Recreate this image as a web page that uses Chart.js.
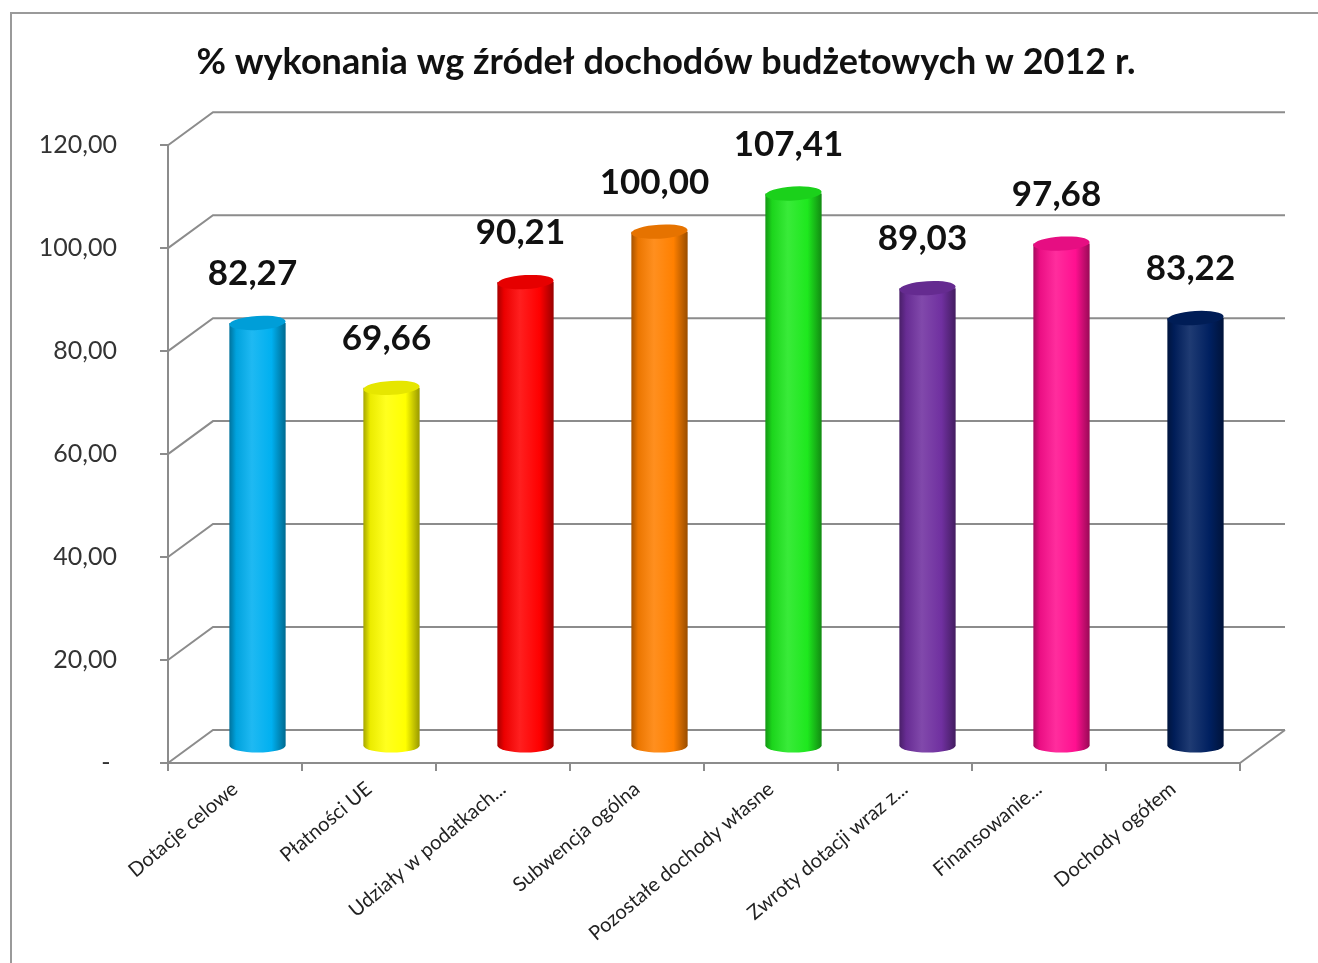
<!DOCTYPE html>
<html>
<head>
<meta charset="utf-8">
<script src="https://cdn.jsdelivr.net/npm/chart.js@4.4.1/dist/chart.umd.min.js"></script>
<style>
  body { margin: 0; background: #fff; }
  #wrap { width: 1318px; height: 963px; }
</style>
</head>
<body>
<div id="wrap"><canvas id="myChart"></canvas></div>
<script>
const categories = [
  'Dotacje celowe',
  'Płatności UE',
  'Udziały w podatkach...',
  'Subwencja ogólna',
  'Pozostałe dochody własne',
  'Zwroty dotacji wraz z...',
  'Finansowanie...',
  'Dochody ogółem'
];

const percentDone = [82.27, 69.66, 90.21, 100.00, 107.41, 89.03, 97.68, 83.22];

const barColors = ['#00b0f0', '#ffff00', '#ff0000', '#ff8000', '#1ee81e', '#7030a0', '#ff1090', '#002060'];

const yTicks = [0, 20, 40, 60, 80, 100, 120];

const title = '% wykonania wg źródeł dochodów budżetowych w 2012 r.';

// depth of the fake 3D box
const DX = 45, DY = -33;
const FONT = 'Lato, "Open Sans", sans-serif';

const plFormat = (v) => v === 0 ? '- ' : v.toFixed(2).replace('.', ',');

const shade = (hex, amt) => {
  // amt < 0 darker, amt > 0 lighter
  let r = parseInt(hex.substr(1, 2), 16);
  let g = parseInt(hex.substr(3, 2), 16);
  let b = parseInt(hex.substr(5, 2), 16);
  const t = amt < 0 ? 0 : 255;
  const p = Math.abs(amt);
  r = Math.round(r + (t - r) * p);
  g = Math.round(g + (t - g) * p);
  b = Math.round(b + (t - b) * p);
  return `rgb(${r},${g},${b})`;
};

const frame3d = {
  id: 'frame3d',
  beforeDraw(chart) {
    const ctx = chart.ctx;
    ctx.save();
    ctx.strokeStyle = '#9a9a9a';
    ctx.lineWidth = 2;
    ctx.beginPath();
    ctx.moveTo(11, chart.height);
    ctx.lineTo(11, 13);
    ctx.lineTo(chart.width, 13);
    ctx.stroke();
    ctx.restore();
  },
  beforeDatasetsDraw(chart) {
    const { ctx, chartArea } = chart;
    const y = chart.scales.y;
    ctx.save();
    ctx.strokeStyle = '#8c8c8c';
    ctx.lineWidth = 2;
    yTicks.forEach((v) => {
      const py = y.getPixelForValue(v);
      ctx.beginPath();
      ctx.moveTo(chartArea.left, py);
      ctx.lineTo(chartArea.left + DX, py + DY);
      ctx.lineTo(chartArea.right + DX, py + DY);
      ctx.stroke();
    });
    // right edge of the floor
    ctx.beginPath();
    ctx.moveTo(chartArea.right, chartArea.bottom);
    ctx.lineTo(chartArea.right + DX, chartArea.bottom + DY);
    ctx.stroke();
    ctx.restore();
  },
  afterDatasetsDraw(chart) {
    const ctx = chart.ctx;
    const meta = chart.getDatasetMeta(0);
    meta.data.forEach((bar, i) => {
      const col = barColors[i];
      const cx = bar.x + DX / 2;
      const top = bar.y + DY / 2;
      const base = bar.base + DY / 2;
      const rx = bar.width / 2;
      const ry = 7;
      ctx.save();
      const grad = ctx.createLinearGradient(cx - rx, 0, cx + rx, 0);
      grad.addColorStop(0, shade(col, -0.35));
      grad.addColorStop(0.12, shade(col, -0.08));
      grad.addColorStop(0.4, shade(col, 0.12));
      grad.addColorStop(0.75, col);
      grad.addColorStop(1, shade(col, -0.4));
      ctx.fillStyle = grad;
      ctx.beginPath();
      ctx.moveTo(cx - rx, top);
      ctx.lineTo(cx - rx, base);
      ctx.ellipse(cx, base, rx, ry, 0, Math.PI, 0, true);
      ctx.lineTo(cx + rx, top);
      ctx.closePath();
      ctx.fill();
      // lid
      ctx.fillStyle = shade(col, -0.1);
      ctx.beginPath();
      ctx.ellipse(cx, top, rx, ry, -0.06, 0, Math.PI * 2);
      ctx.fill();
      // value label
      ctx.fillStyle = '#111';
      ctx.font = 'bold 35px ' + FONT;
      ctx.textAlign = 'center';
      ctx.textBaseline = 'middle';
      ctx.fillText(percentDone[i].toFixed(2).replace('.', ','), cx - 5, top - 49);
      ctx.restore();
    });
  }
};

const config = {
  type: 'bar',
  data: {
    labels: categories,
    datasets: [{
      label: '% wykonania',
      data: percentDone,
      backgroundColor: 'rgba(0,0,0,0)',
      borderWidth: 0,
      barPercentage: 0.42,
      categoryPercentage: 1
    }]
  },
  options: {
    responsive: true,
    maintainAspectRatio: false,
    animation: false,
    layout: { padding: { left: 14, right: 0, top: 0, bottom: 0 } },
    plugins: {
      legend: { display: false },
      tooltip: { enabled: false },
      title: {
        display: true,
        text: title,
        color: '#111',
        font: { family: FONT, size: 36, weight: 'bold' },
        padding: { top: 41, bottom: 61 }
      }
    },
    scales: {
      x: {
        grid: { offset: true, drawOnChartArea: false, color: '#8c8c8c', lineWidth: 2, tickLength: 8 },
        border: { color: '#8c8c8c', width: 2 },
        ticks: {
          color: '#222',
          font: { family: FONT, size: 20 },
          minRotation: 40,
          maxRotation: 40,
          autoSkip: false,
          padding: 6
        },
        afterFit(scale) { scale.height = 200; }
      },
      y: {
        min: 0,
        max: 120,
        afterBuildTicks(scale) { scale.ticks = yTicks.map((v) => ({ value: v })); },
        grid: { drawOnChartArea: false, color: '#8c8c8c', lineWidth: 2, tickLength: 8 },
        border: { color: '#8c8c8c', width: 2 },
        ticks: {
          color: '#333',
          font: { family: FONT, size: 25 },
          padding: 43,
          callback: (v) => plFormat(v)
        },
        afterFit(scale) { scale.width = 154; }
      },
      // empty right-hand axis: only reserves room for the box depth
      yRight: {
        type: 'linear',
        position: 'right',
        min: 0,
        max: 120,
        grid: { display: false },
        border: { display: false },
        ticks: { display: false },
        afterFit(scale) { scale.width = 78; }
      }
    }
  },
  plugins: [frame3d]
};

new Chart(document.getElementById('myChart'), config);
</script>
</body>
</html>
